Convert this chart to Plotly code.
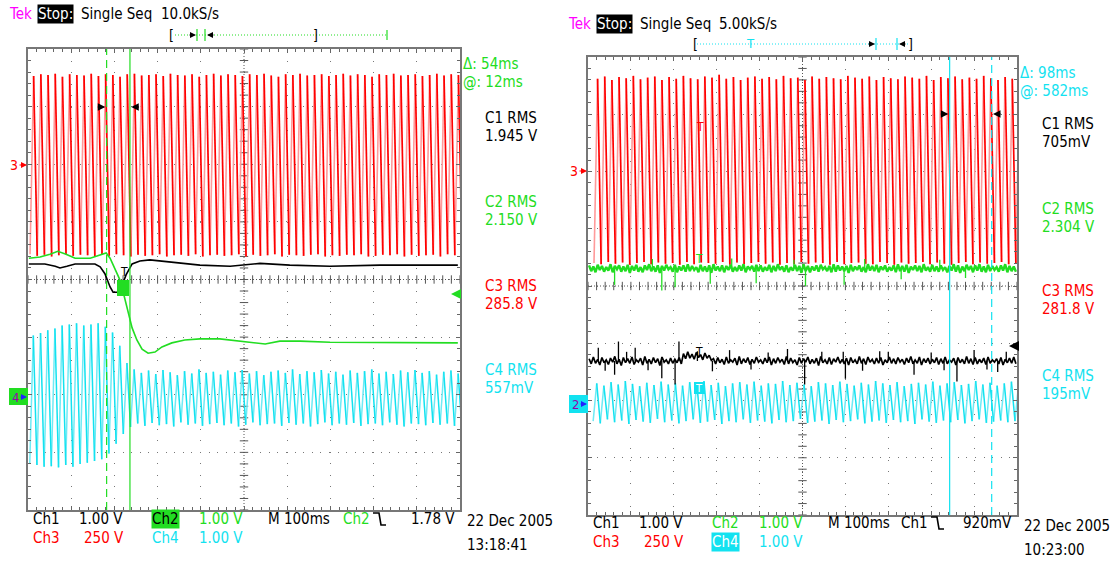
import numpy as np
import plotly.graph_objects as go

W, H = 1112, 561
FONT = "DejaVu Sans Condensed, DejaVu Sans, sans-serif"
FS = 15

# ---------------- data (time in ms at 100 ms/div, amplitude in screen divisions) -------------
PERIOD_MS = 1000.0 / 60.0          # 60 Hz mains, 60 cycles on a 1 s record
# left capture (13:18:41)
red_l_phase_ms = 4.7
red_l_peak = [3.53, 3.56, 3.55, 3.57, 3.52, 3.56, 3.55, 3.54, 3.57, 3.53,
              3.56, 3.55, 3.52, 3.56, 3.57, 3.54, 3.55, 3.56, 3.53, 3.57,
              3.55, 3.54, 3.56, 3.52, 3.55, 3.57, 3.54, 3.56, 3.55, 3.53,
              3.56, 3.55, 3.57, 3.54, 3.52, 3.56, 3.55, 3.57, 3.54, 3.55,
              3.56, 3.53, 3.55, 3.57, 3.54, 3.56, 3.55, 3.52, 3.56, 3.55,
              3.57, 3.54, 3.55, 3.56, 3.53, 3.55, 3.57, 3.54, 3.56, 3.55]
red_l_trough = [0.44, 0.41, 0.43, 0.40, 0.42, 0.44, 0.41, 0.43, 0.42, 0.40,
                0.43, 0.41, 0.44, 0.42, 0.40, 0.43, 0.41, 0.42, 0.44, 0.40,
                0.42, 0.43, 0.41, 0.44, 0.40, 0.42, 0.43, 0.41, 0.42, 0.44,
                0.40, 0.43, 0.41, 0.42, 0.44, 0.40, 0.43, 0.42, 0.41, 0.43,
                0.44, 0.40, 0.42, 0.41, 0.43, 0.42, 0.44, 0.40, 0.41, 0.43,
                0.42, 0.44, 0.40, 0.43, 0.41, 0.42, 0.43, 0.40, 0.44, 0.42]
cyan_l_phase_ms = 4.0
cyan_l_peak = [-0.97, -0.93, -0.88, -0.85, -0.80, -0.78, -0.76, -0.80, -0.78, -0.76, -0.82,
               -0.92, -1.15, -1.45, -1.56,
               -1.62, -1.58, -1.64, -1.57, -1.61, -1.66, -1.59, -1.63, -1.56, -1.62,
               -1.60, -1.65, -1.58, -1.61, -1.57, -1.63, -1.59, -1.66, -1.60, -1.58,
               -1.62, -1.56, -1.64, -1.59, -1.61, -1.57, -1.63, -1.60, -1.65, -1.58,
               -1.62, -1.59, -1.56, -1.63, -1.60, -1.64, -1.58, -1.61, -1.57, -1.62,
               -1.59, -1.65, -1.60, -1.58, -1.63]
cyan_l_trough = [-3.20, -3.22, -3.25, -3.24, -3.26, -3.22, -3.25, -3.20, -3.18, -3.15, -3.12,
                 -3.02, -2.85, -2.68, -2.56,
                 -2.50, -2.54, -2.49, -2.53, -2.51, -2.55, -2.48, -2.52, -2.50, -2.54,
                 -2.51, -2.49, -2.53, -2.50, -2.55, -2.52, -2.48, -2.53, -2.51, -2.50,
                 -2.54, -2.49, -2.52, -2.50, -2.55, -2.51, -2.48, -2.53, -2.50, -2.52,
                 -2.49, -2.54, -2.51, -2.50, -2.53, -2.48, -2.52, -2.55, -2.50, -2.51,
                 -2.53, -2.49, -2.52, -2.50, -2.54]
ch1_l_t = [2, 39, 63, 74, 90, 109, 155, 167, 178, 190, 197, 208, 218, 227, 241, 259, 282, 306,
           340, 398, 468, 537, 606, 699, 815, 907, 995]
ch1_l_v = [0.27, 0.27, 0.23, 0.20, 0.23, 0.27, 0.27, 0.22, 0.10, -0.13, -0.22, -0.22, -0.10,
           0.08, 0.27, 0.32, 0.34, 0.32, 0.29, 0.25, 0.23, 0.28, 0.25, 0.23, 0.25, 0.25, 0.25]
ch2_l_t = [2, 28, 51, 69, 88, 109, 144, 167, 181, 190, 201, 213, 222, 231, 241, 252, 264, 278,
           294, 310, 333, 363, 398, 444, 491, 525, 549, 583, 630, 699, 769, 861, 931, 995]
ch2_l_v = [0.37, 0.39, 0.44, 0.49, 0.44, 0.37, 0.37, 0.43, 0.46, 0.37, 0.20, -0.01, -0.27,
           -0.56, -0.84, -1.05, -1.21, -1.28, -1.26, -1.17, -1.10, -1.05, -1.03, -1.03, -1.07,
           -1.10, -1.12, -1.07, -1.07, -1.09, -1.09, -1.10, -1.10, -1.10]
cursor_l_ms = [182, 236]

# right capture (10:23:00)
red_r_phase_ms = 14.0
red_r_peak = [3.62, 3.66, 3.60, 3.65, 3.63, 3.67, 3.61, 3.64, 3.66, 3.60,
              3.65, 3.62, 3.67, 3.63, 3.61, 3.66, 3.64, 3.69, 3.62, 3.65,
              3.60, 3.64, 3.66, 3.62, 3.65, 3.61, 3.67, 3.63, 3.64, 3.60,
              3.66, 3.62, 3.65, 3.63, 3.61, 3.67, 3.64, 3.62, 3.66, 3.60,
              3.65, 3.63, 3.61, 3.66, 3.64, 3.62, 3.67, 3.60, 3.65, 3.63,
              3.66, 3.61, 3.64, 3.62, 3.67, 3.63, 3.60, 3.65, 3.62, 3.64]
red_r_trough = [0.40, 0.38, 0.42, 0.39, 0.41, 0.37, 0.40, 0.42, 0.38, 0.41,
                0.39, 0.40, 0.37, 0.42, 0.38, 0.41, 0.40, 0.39, 0.42, 0.37,
                0.41, 0.38, 0.40, 0.42, 0.39, 0.41, 0.37, 0.40, 0.38, 0.42,
                0.39, 0.41, 0.40, 0.37, 0.42, 0.38, 0.40, 0.41, 0.39, 0.38,
                0.42, 0.40, 0.37, 0.41, 0.39, 0.40, 0.42, 0.38, 0.41, 0.39,
                0.37, 0.40, 0.42, 0.38, 0.41, 0.39, 0.40, 0.42, 0.38, 0.40]
cyan_r_phase_ms = 12.0
cyan_r_peak = [-1.70, -1.74, -1.68, -1.72, -1.66, -1.71, -1.75, -1.69, -1.73, -1.67,
               -1.72, -1.70, -1.74, -1.68, -1.71, -1.66, -1.73, -1.69, -1.75, -1.70,
               -1.68, -1.72, -1.67, -1.74, -1.70, -1.71, -1.66, -1.73, -1.69, -1.72,
               -1.75, -1.68, -1.70, -1.73, -1.67, -1.71, -1.74, -1.69, -1.72, -1.66,
               -1.70, -1.73, -1.68, -1.75, -1.71, -1.69, -1.72, -1.67, -1.74, -1.70,
               -1.68, -1.73, -1.71, -1.66, -1.72, -1.69, -1.74, -1.70, -1.67, -1.72]
cyan_r_trough = [-2.36, -2.40, -2.33, -2.38, -2.35, -2.41, -2.34, -2.37, -2.39, -2.32,
                 -2.38, -2.35, -2.40, -2.36, -2.33, -2.39, -2.37, -2.34, -2.41, -2.36,
                 -2.38, -2.33, -2.39, -2.35, -2.37, -2.40, -2.34, -2.38, -2.36, -2.32,
                 -2.39, -2.37, -2.35, -2.41, -2.34, -2.38, -2.36, -2.33, -2.40, -2.37,
                 -2.35, -2.39, -2.34, -2.38, -2.36, -2.41, -2.33, -2.37, -2.39, -2.35,
                 -2.38, -2.34, -2.40, -2.36, -2.33, -2.39, -2.37, -2.35, -2.38, -2.36]
noise_sample_ms = 5.0
ch2_r_v = [0.36, 0.26, 0.34, 0.24, 0.37, 0.28, 0.35, 0.25, 0.33, 0.27, 0.38, 0.24, 0.35, 0.29, 0.36, 0.25, 0.34, 0.26, 0.37, 0.23,
           0.35, 0.27, 0.37, 0.25, 0.33, 0.24, 0.36, 0.28, 0.38, 0.26, 0.34, 0.25, 0.36, 0.23, 0.35, 0.27, 0.37, 0.29, 0.33, 0.25,
           0.37, 0.24, 0.34, 0.27, 0.36, 0.25, 0.38, 0.26, 0.35, 0.28, 0.33, 0.24, 0.37, 0.26, 0.34, 0.25, 0.36, 0.23, 0.38, 0.27,
           0.34, 0.26, 0.36, 0.24, 0.35, 0.28, 0.37, 0.25, 0.33, 0.26, 0.36, 0.27, 0.38, 0.24, 0.34, 0.29, 0.35, 0.25, 0.37, 0.26,
           0.36, 0.25, 0.33, 0.27, 0.37, 0.24, 0.35, 0.26, 0.38, 0.28, 0.34, 0.25, 0.36, 0.24, 0.33, 0.27, 0.37, 0.26, 0.35, 0.23,
           0.38, 0.26, 0.35, 0.24, 0.34, 0.27, 0.36, 0.25, 0.37, 0.29, 0.33, 0.26, 0.35, 0.24, 0.38, 0.25, 0.36, 0.27, 0.34, 0.26,
           0.35, 0.23, 0.37, 0.26, 0.34, 0.28, 0.36, 0.25, 0.33, 0.24, 0.38, 0.27, 0.35, 0.26, 0.37, 0.24, 0.34, 0.28, 0.36, 0.25,
           0.33, 0.27, 0.36, 0.24, 0.38, 0.26, 0.35, 0.25, 0.37, 0.23, 0.34, 0.28, 0.36, 0.26, 0.35, 0.24, 0.38, 0.27, 0.33, 0.25,
           0.37, 0.26, 0.34, 0.25, 0.36, 0.28, 0.33, 0.24, 0.35, 0.27, 0.38, 0.25, 0.36, 0.23, 0.34, 0.26, 0.37, 0.28, 0.35, 0.24,
           0.36, 0.27, 0.38, 0.25, 0.34, 0.24, 0.37, 0.26, 0.35, 0.28, 0.33, 0.25, 0.36, 0.27, 0.38, 0.24, 0.35, 0.26, 0.34, 0.25]
ch2_r_level = 0.31
ch2_r_spike_t = [62, 150, 172, 203, 285, 335, 392, 480, 507, 597, 645, 730, 820, 880]
ch2_r_spike_v = [0.02, 0.47, -0.08, -0.02, 0.04, 0.48, 0.05, 0.46, 0.00, 0.02, 0.47, 0.12, 0.46, 0.14]
ch1_r_v = [-1.27, -1.36, -1.24, -1.35, -1.28, -1.38, -1.25, -1.34, -1.29, -1.37, -1.26, -1.33, -1.23, -1.36, -1.28, -1.39, -1.25, -1.34, -1.27, -1.35,
           -1.24, -1.37, -1.29, -1.33, -1.26, -1.38, -1.23, -1.35, -1.28, -1.36, -1.25, -1.34, -1.27, -1.39, -1.24, -1.33, -1.29, -1.36, -1.26, -1.35,
           -1.28, -1.34, -1.25, -1.36, -1.18, -1.27, -1.15, -1.26, -1.19, -1.28, -1.16, -1.25, -1.20, -1.29, -1.17, -1.26, -1.21, -1.30, -1.27, -1.36,
           -1.25, -1.34, -1.28, -1.37, -1.24, -1.35, -1.29, -1.33, -1.26, -1.38, -1.23, -1.36, -1.27, -1.34, -1.25, -1.37, -1.28, -1.35, -1.24, -1.33,
           -1.29, -1.36, -1.26, -1.34, -1.24, -1.38, -1.27, -1.35, -1.25, -1.33, -1.28, -1.37, -1.23, -1.36, -1.26, -1.34, -1.29, -1.38, -1.25, -1.35,
           -1.27, -1.33, -1.24, -1.36, -1.28, -1.35, -1.26, -1.39, -1.23, -1.34, -1.29, -1.36, -1.25, -1.37, -1.27, -1.33, -1.24, -1.35, -1.28, -1.36,
           -1.26, -1.38, -1.25, -1.34, -1.29, -1.36, -1.23, -1.35, -1.27, -1.37, -1.24, -1.33, -1.28, -1.36, -1.26, -1.35, -1.25, -1.38, -1.29, -1.34,
           -1.24, -1.35, -1.27, -1.36, -1.25, -1.33, -1.28, -1.37, -1.26, -1.34, -1.23, -1.36, -1.29, -1.35, -1.24, -1.38, -1.27, -1.34, -1.26, -1.36,
           -1.28, -1.34, -1.25, -1.37, -1.27, -1.35, -1.24, -1.36, -1.29, -1.33, -1.26, -1.38, -1.25, -1.34, -1.28, -1.36, -1.23, -1.35, -1.27, -1.37,
           -1.25, -1.36, -1.28, -1.34, -1.26, -1.37, -1.24, -1.35, -1.29, -1.33, -1.27, -1.36, -1.25, -1.38, -1.28, -1.34, -1.26, -1.35, -1.24, -1.36]
ch1_r_level = -1.31
ch1_r_spike_t = [24, 40, 62, 71, 90, 110, 140, 172, 203, 212, 255, 290, 330, 380, 420, 465, 505,
                 545, 595, 600, 640, 680, 700, 760, 800, 830, 860, 900, 930, 955, 975]
ch1_r_spike_v = [-1.08, -1.48, -1.55, -0.97, -1.15, -1.08, -1.47, -1.61, -1.72, -0.97, -1.14, -1.49,
                 -1.12, -1.46, -1.16, -1.10, -1.72, -1.15, -1.15, -1.62, -1.48, -1.14, -1.15, -1.55,
                 -1.16, -1.47, -1.67, -1.12, -1.46, -1.50, -1.15]
cursor_r_ms = [843, 941]

# readouts
left_text = dict(rate="10.0kS/s", delta="\u0394: 54ms", at="@: 12ms",
                 rms=["1.945 V", "2.150 V", "285.8 V", "557mV"],
                 trig_src="Ch2", trig_lvl="1.78 V", date="22 Dec 2005", time="13:18:41")
right_text = dict(rate="5.00kS/s", delta="\u0394: 98ms", at="@: 582ms",
                  rms=["705mV", "2.304 V", "281.8 V", "195mV"],
                  trig_src="Ch1", trig_lvl="920mV", date="22 Dec 2005", time="10:23:00")

# ---------------- style ----------------
RED, PINK = "#ff0000", "#ff9a9a"
CYAN, LCYAN = "#12e2f0", "#70eaf4"
GREEN = "#22dd22"
MAG = "#ff00ff"
PL = dict(x0=28, x1=460, y0=49, y1=510)     # left screen in px
PR = dict(x0=588, x1=1017, y0=57, y1=515)   # right screen in px

def px(x):
    return x / W

def py(y):
    return 1 - y / H

fig = go.Figure()

def zigzag(phase, peaks, troughs):
    rx, ry, fx, fy = [], [], [], []
    n = len(peaks)
    for i in range(n):
        t0 = phase + i * PERIOD_MS
        t1 = t0 + PERIOD_MS / 2
        t2 = t0 + PERIOD_MS
        nxt = troughs[i + 1] if i + 1 < n else troughs[i]
        rx += [t0, t1, None]; ry += [troughs[i], peaks[i], None]
        fx += [t1, t2, None]; fy += [peaks[i], nxt, None]
    return rx, ry, fx, fy

def add_wave(phase, peaks, troughs, c_strong, c_light, xa, ya, w_strong=1.7, w_light=1.6):
    rx, ry, fx, fy = zigzag(phase, peaks, troughs)
    fig.add_trace(go.Scatter(x=rx, y=ry, mode="lines", line=dict(color=c_light, width=w_light),
                             xaxis=xa, yaxis=ya, hoverinfo="skip"))
    fig.add_trace(go.Scatter(x=fx, y=fy, mode="lines", line=dict(color=c_strong, width=w_strong),
                             xaxis=xa, yaxis=ya, hoverinfo="skip"))

def add_noise(values, level, spike_t, spike_v, color, xa, ya, width=1.3):
    t = noise_sample_ms / 2 + noise_sample_ms * np.arange(len(values))
    fig.add_trace(go.Scatter(x=t, y=values, mode="lines", line=dict(color=color, width=width),
                             xaxis=xa, yaxis=ya, hoverinfo="skip"))
    sx, sy = [], []
    for tt, vv in zip(spike_t, spike_v):
        sx += [tt, tt, None]; sy += [level, vv, None]
    fig.add_trace(go.Scatter(x=sx, y=sy, mode="lines", line=dict(color=color, width=1.3),
                             xaxis=xa, yaxis=ya, hoverinfo="skip"))

# centre cross ticks
def centre_ticks(xa, ya):
    fig.add_trace(go.Scatter(x=np.arange(0, 1001, 20), y=np.zeros(51), mode="markers",
                             marker=dict(symbol="line-ns", size=6, line=dict(width=1, color="#555")),
                             xaxis=xa, yaxis=ya, hoverinfo="skip"))
    fig.add_trace(go.Scatter(x=np.full(41, 500), y=np.arange(-4, 4.001, 0.2), mode="markers",
                             marker=dict(symbol="line-ew", size=6, line=dict(width=1, color="#555")),
                             xaxis=xa, yaxis=ya, hoverinfo="skip"))

centre_ticks("x", "y")
centre_ticks("x2", "y2")

# left traces
add_wave(red_l_phase_ms, red_l_peak, red_l_trough, RED, PINK, "x", "y")
add_wave(cyan_l_phase_ms, cyan_l_peak, cyan_l_trough, CYAN, LCYAN, "x", "y", 1.5, 1.5)
fig.add_trace(go.Scatter(x=ch1_l_t, y=ch1_l_v, mode="lines", line=dict(color="black", width=1.6),
                         xaxis="x", yaxis="y", hoverinfo="skip"))
fig.add_trace(go.Scatter(x=ch2_l_t, y=ch2_l_v, mode="lines", line=dict(color=GREEN, width=1.6),
                         xaxis="x", yaxis="y", hoverinfo="skip"))

# right traces
add_wave(red_r_phase_ms, red_r_peak, red_r_trough, RED, PINK, "x2", "y2")
add_wave(cyan_r_phase_ms, cyan_r_peak, cyan_r_trough, CYAN, LCYAN, "x2", "y2", 1.5, 1.5)
add_noise(ch1_r_v, ch1_r_level, ch1_r_spike_t, ch1_r_spike_v, "black", "x2", "y2", 1.7)
add_noise(ch2_r_v, ch2_r_level, ch2_r_spike_t, ch2_r_spike_v, GREEN, "x2", "y2", 2.4)

shapes = []
ann = []

# cursors
for i, c in enumerate(cursor_l_ms):
    shapes.append(dict(type="line", xref="x", yref="y", x0=c, x1=c, y0=-4, y1=4,
                       line=dict(color=GREEN, width=1.2, dash="8px,5px" if i == 0 else "solid")))
for i, c in enumerate(cursor_r_ms):
    shapes.append(dict(type="line", xref="x2", yref="y2", x0=c, x1=c, y0=-4, y1=4,
                       line=dict(color=CYAN, width=1.2, dash="solid" if i == 0 else "8px,5px")))

# centre lines
for xa, ya in (("x", "y"), ("x2", "y2")):
    shapes.append(dict(type="line", xref=xa, yref=ya, x0=500, x1=500, y0=-4, y1=4,
                       line=dict(color="#555", width=1, dash="1px,2px"), layer="below"))
    shapes.append(dict(type="line", xref=xa, yref=ya, x0=0, x1=1000, y0=0, y1=0,
                       line=dict(color="#555", width=1, dash="1px,2px"), layer="below"))

def label(x, y, text, color="black", size=FS, bg="rgba(0,0,0,0)", xanchor="left"):
    ann.append(dict(x=px(x), y=py(y), xref="paper", yref="paper", text=text, showarrow=False,
                    font=dict(family=FONT, size=size, color=color), xanchor=xanchor,
                    yanchor="middle", bgcolor=bg, borderpad=0))

def arrow(x, y, dx, color, xref="paper", width=1.5):
    ann.append(dict(x=x if xref != "paper" else px(x), y=py(y), xref=xref, yref="paper",
                    ax=dx, ay=0, text="", showarrow=True, arrowhead=2, arrowsize=1,
                    arrowwidth=width, arrowcolor=color, standoff=0))

def vline_px(x, y0, y1, color, width=1.2):
    shapes.append(dict(type="line", xref="paper", yref="paper", x0=px(x), x1=px(x),
                       y0=py(y0), y1=py(y1), line=dict(color=color, width=width)))

def hline_px(x0, x1, y, color, dash="1px,2px", width=1):
    shapes.append(dict(type="line", xref="paper", yref="paper", x0=px(x0), x1=px(x1),
                       y0=py(y), y1=py(y), line=dict(color=color, width=width, dash=dash)))

def rect_px(x0, y0, x1, y1, color):
    shapes.append(dict(type="rect", xref="paper", yref="paper", x0=px(x0), x1=px(x1),
                       y0=py(y1), y1=py(y0), fillcolor=color, line=dict(width=0)))

def edge_symbol(x, y):
    # falling-edge trigger glyph
    path = (f"M {px(x)} {py(y - 6)} L {px(x + 6)} {py(y - 6)} "
            f"L {px(x + 8)} {py(y + 6)} L {px(x + 13)} {py(y + 6)}")
    shapes.append(dict(type="path", xref="paper", yref="paper", path=path,
                       line=dict(color="black", width=1.6)))

def panel_text(P, T, cur_color, hdr_y, tek_x, rate_x, right_x, rms_y, bottom_y, date_y):
    x0 = P["x0"]
    label(tek_x, hdr_y, "Tek", MAG)
    label(tek_x + 29, hdr_y, "Stop:", "white", bg="black")
    label(tek_x + 72, hdr_y, "Single Seq", "black")
    label(rate_x, hdr_y, T["rate"], "black")
    label(right_x, rms_y[0], T["delta"], cur_color)
    label(right_x, rms_y[0] + 18, T["at"], cur_color)
    cols = ["black", GREEN, RED, CYAN]
    for k in range(4):
        label(right_x + 22, rms_y[1 + k], f"C{k + 1} RMS", cols[k])
        label(right_x + 22, rms_y[1 + k] + 18, T["rms"][k], cols[k])
    b1, b2 = bottom_y, bottom_y + 19
    label(x0 + 4, b1, "Ch1", "black")
    label(x0 + 50, b1, "1.00 V", "black")
    label(x0 + 4, b2, "Ch3", RED)
    label(x0 + 55, b2, "250 V", RED)
    label(x0 + 170, b1, "1.00 V", GREEN)
    label(x0 + 170, b2, "1.00 V", CYAN)
    label(x0 + 239, b1, "M 100ms", "black")
    label(P["x1"] - 4, b1, T["trig_lvl"], "black", xanchor="right")
    label(P["x1"] + 6, date_y, T["date"], "black")
    label(P["x1"] + 6, date_y + 24, T["time"], "black")

# ---- left panel text ----
panel_text(PL, left_text, GREEN, 14, 8, 160, 462, [64, 118, 202, 286, 370], 519, 521)
label(PL["x0"] + 123, 519, "Ch2", "black", bg=GREEN)
label(PL["x0"] + 123, 538, "Ch4", CYAN)
label(PL["x0"] + 314, 519, "Ch2", GREEN)
edge_symbol(373, 519)
label(168, 35, "[", "black", size=14)
hline_px(175, 387, 35, GREEN)
label(312, 35, "]", "black", size=14)
vline_px(197, 29, 41, GREEN)
vline_px(205, 29, 41, GREEN)
vline_px(387, 30, 40, GREEN)
arrow(196, 35, -8, "black", width=1.2)
arrow(207, 35, 8, "black", width=1.2)
arrow(cursor_l_ms[0] - 3, 107, -9, "black", xref="x")
arrow(cursor_l_ms[1] + 3, 107, 9, "black", xref="x")
arrow(451, 294, 7, GREEN, width=2)
label(9, 165, "3", RED, size=14)
arrow(27, 165, -9, RED, width=1.2)
rect_px(9, 388, 28, 405, GREEN)
label(11, 397, "4", "#9900aa", size=13)
arrow(27, 397, -8, "#2222ff", width=1.2)
label(124, 272, "T", "black", size=12, xanchor="center")
rect_px(117, 280, 129, 296, GREEN)

# ---- right panel text ----
panel_text(PR, right_text, CYAN, 24, 567, 718, 1019, [73, 124, 209, 291, 376], 523, 526)
label(PR["x0"] + 123, 523, "Ch2", GREEN)
label(PR["x0"] + 123, 542, "Ch4", "white", bg=CYAN)
label(PR["x0"] + 312, 523, "Ch1", "black")
edge_symbol(931, 523)
label(692, 44, "[", "black", size=14)
hline_px(697, 909, 44, CYAN)
label(907, 44, "]", "black", size=14)
label(750, 44, "T", CYAN, size=13, xanchor="center")
vline_px(876, 38, 50, CYAN)
vline_px(897, 38, 50, CYAN)
arrow(875, 44, -8, "black", width=1.2)
arrow(899, 44, 8, "black", width=1.2)
arrow(cursor_r_ms[0] - 3, 114, -9, "black", xref="x2")
arrow(cursor_r_ms[1] + 3, 114, 9, "black", xref="x2")
arrow(1009, 346, 7, "black", width=2)
label(569, 171, "3", RED, size=14)
arrow(587, 171, -9, RED, width=1.2)
rect_px(569, 395, 588, 413, CYAN)
label(571, 404, "2", "#9900aa", size=13)
arrow(587, 404, -8, "#2222ff", width=1.2)
label(700, 127, "T", RED, size=12, xanchor="center")
label(699, 259, "T", GREEN, size=12, xanchor="center")
label(699, 352, "T", "black", size=12, xanchor="center")
rect_px(694, 382, 705, 394, CYAN)
label(699, 388, "T", "white", size=11, xanchor="center")

def xaxis_cfg(P, anchor):
    return dict(domain=[px(P["x0"]), px(P["x1"])], anchor=anchor, range=[0, 1000],
                showticklabels=False, showline=True, linecolor="#777", linewidth=2, mirror="ticks",
                ticks="inside", tickmode="linear", tick0=0, dtick=100, ticklen=4, tickcolor="#666",
                minor=dict(ticks="inside", dtick=20, ticklen=3, tickcolor="#666", showgrid=False),
                showgrid=True, gridcolor="#777", gridwidth=1, griddash="1px,10.5px",
                zeroline=False, fixedrange=True)

def yaxis_cfg(P, anchor):
    return dict(domain=[py(P["y1"]), py(P["y0"])], anchor=anchor, range=[-4, 4],
                showticklabels=False, showline=True, linecolor="#777", linewidth=2, mirror="ticks",
                ticks="inside", tickmode="linear", tick0=0, dtick=1, ticklen=4, tickcolor="#666",
                minor=dict(ticks="inside", dtick=0.2, ticklen=3, tickcolor="#666", showgrid=False),
                showgrid=True, gridcolor="#777", gridwidth=1, griddash="1px,7.6px",
                zeroline=False, fixedrange=True)

fig.update_layout(
    width=W, height=H, margin=dict(l=0, r=0, t=0, b=0),
    paper_bgcolor="white", plot_bgcolor="white", showlegend=False, hovermode=False,
    xaxis=xaxis_cfg(PL, "y"), yaxis=yaxis_cfg(PL, "x"),
    xaxis2=xaxis_cfg(PR, "y2"), yaxis2=yaxis_cfg(PR, "x2"),
    shapes=shapes, annotations=ann,
)

fig.write_html("out.html", config=dict(displayModeBar=False),
               post_script="document.body.style.margin='0';document.body.style.overflow='hidden';")
